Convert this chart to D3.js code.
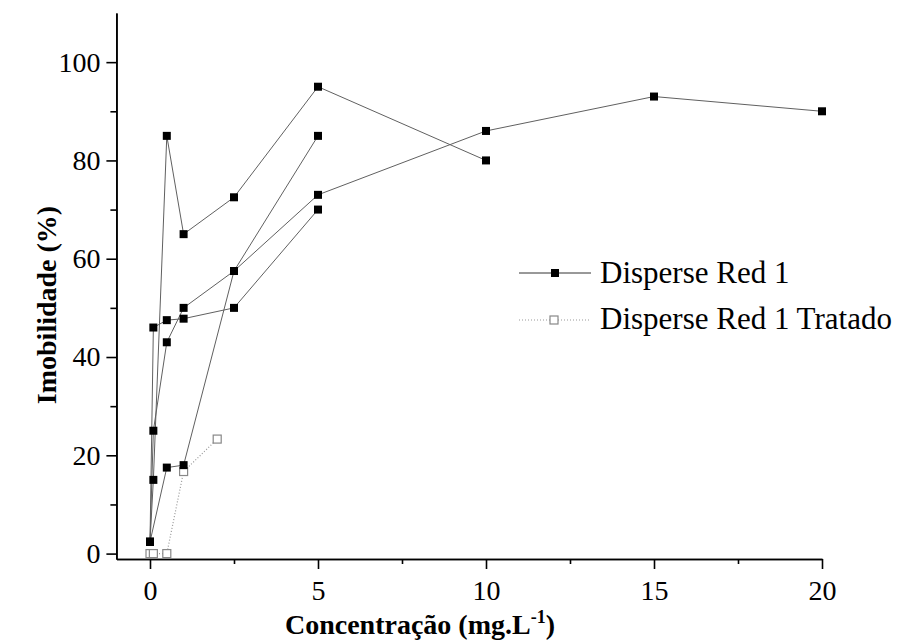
<!DOCTYPE html>
<html>
<head>
<meta charset="utf-8">
<script src="https://cdn.jsdelivr.net/npm/d3@7"></script>
<style>
  body { margin: 0; background: #fff; }
  svg text { font-family: "Liberation Serif", "Times New Roman", serif; fill: #000; }
</style>
</head>
<body>
<div id="chart"></div>
<script>
// four replicates of the untreated dye, one series for the treated one
var concRep1 = [0, 0.1, 0.5, 1, 2.5, 5, 10];
var imobRep1 = [2.4, 15, 85, 65, 72.5, 95, 80];
var concRep2 = [0, 0.5, 1, 2.5, 5];
var imobRep2 = [2.4, 17.5, 18, 57.5, 85];
var concRep3 = [0, 0.1, 0.5, 1, 2.5, 5, 10, 15, 20];
var imobRep3 = [2.4, 25, 43, 50, 57.5, 73, 86, 93, 90];
var concRep4 = [0, 0.1, 0.5, 1, 2.5, 5];
var imobRep4 = [2.4, 46, 47.5, 47.8, 50, 70];
var concTratado = [0, 0.1, 0.5, 1, 2];
var imobTratado = [0, 0, 0, 16.7, 23.3];

var xMajor = [0, 5, 10, 15, 20],
    xMinor = [2.5, 7.5, 12.5, 17.5];
var yMajor = [0, 20, 40, 60, 80, 100],
    yMinor = [10, 30, 50, 70, 90];
var legendNames = ["Disperse Red 1", "Disperse Red 1 Tratado"];

var width = 900, height = 644;

var svg = d3.select("#chart")
    .append("svg")
    .attr("width", width)
    .attr("height", height);

var x = d3.scaleLinear().domain([-1, 20]).range([116.4, 822]);
var y = d3.scaleLinear().domain([-1.1, 110]).range([559, 13]);

function pairs(xs, ys) {
    return xs.map(function(d, i) { return [d, ys[i]]; });
}

var reps = [
    pairs(concRep1, imobRep1),
    pairs(concRep2, imobRep2),
    pairs(concRep3, imobRep3),
    pairs(concRep4, imobRep4)
];
var tratado = pairs(concTratado, imobTratado);

var line = d3.line()
    .x(function(d) { return x(d[0]); })
    .y(function(d) { return y(d[1]); });

// axes
svg.append("g")
    .attr("transform", "translate(" + x(-1) + ",0)")
    .call(d3.axisLeft(y).tickValues(yMajor).tickSize(10).tickSizeOuter(0).tickPadding(6));
svg.append("g")
    .attr("transform", "translate(" + x(-1) + ",0)")
    .call(d3.axisLeft(y).tickValues(yMinor).tickSize(6).tickSizeOuter(0).tickFormat(""));

svg.append("g")
    .attr("transform", "translate(0," + y(-1.1) + ")")
    .call(d3.axisBottom(x).tickValues(xMajor).tickSize(10).tickSizeOuter(0).tickPadding(11));
svg.append("g")
    .attr("transform", "translate(0," + y(-1.1) + ")")
    .call(d3.axisBottom(x).tickValues(xMinor).tickSize(5).tickSizeOuter(0).tickFormat(""));

svg.selectAll(".domain").attr("stroke", "#000").attr("stroke-width", 1.6);
svg.selectAll(".tick line").attr("stroke", "#000").attr("stroke-width", 1.6);
svg.selectAll(".tick text")
    .attr("font-size", 28)
    .style("font-family", "'Liberation Serif', 'Times New Roman', serif");

// axis titles
svg.append("text")
    .attr("transform", "translate(56,305) rotate(-90)")
    .attr("text-anchor", "middle")
    .attr("font-size", 28)
    .attr("font-weight", "bold")
    .text("Imobilidade (%)");

var xt = svg.append("text")
    .attr("x", 420)
    .attr("y", 634)
    .attr("text-anchor", "middle")
    .attr("font-size", 28)
    .attr("font-weight", "bold");
xt.append("tspan").text("Concentração (mg.L");
xt.append("tspan").attr("dy", -11).attr("font-size", 18).text("-1");
xt.append("tspan").attr("dy", 11).text(")");

// lines
svg.selectAll(".rep")
    .data(reps)
    .enter()
    .append("path")
    .attr("class", "rep")
    .attr("d", line)
    .attr("fill", "none")
    .attr("stroke", "#606060")
    .attr("stroke-width", 1);

svg.append("path")
    .datum(tratado)
    .attr("d", line)
    .attr("fill", "none")
    .attr("stroke", "#999")
    .attr("stroke-width", 1.2)
    .attr("stroke-dasharray", "1,2");

// markers
var s = 8;
svg.append("g").selectAll("rect")
    .data(tratado)
    .enter()
    .append("rect")
    .attr("x", function(d) { return x(d[0]) - s / 2; })
    .attr("y", function(d) { return y(d[1]) - s / 2; })
    .attr("width", s)
    .attr("height", s)
    .attr("fill", "#fff")
    .attr("stroke", "#888")
    .attr("stroke-width", 1.2);

svg.append("g").selectAll("rect")
    .data(d3.merge(reps))
    .enter()
    .append("rect")
    .attr("x", function(d) { return x(d[0]) - s / 2; })
    .attr("y", function(d) { return y(d[1]) - s / 2; })
    .attr("width", s)
    .attr("height", s)
    .attr("fill", "#000");

// legend
var legend = svg.append("g");
legend.append("line")
    .attr("x1", 519).attr("x2", 591).attr("y1", 273).attr("y2", 273)
    .attr("stroke", "#333").attr("stroke-width", 1);
legend.append("rect")
    .attr("x", 551).attr("y", 269).attr("width", s).attr("height", s)
    .attr("fill", "#000");
legend.append("text")
    .attr("x", 600).attr("y", 283)
    .attr("font-size", 31)
    .text(legendNames[0]);

legend.append("line")
    .attr("x1", 519).attr("x2", 591).attr("y1", 320).attr("y2", 320)
    .attr("stroke", "#999").attr("stroke-width", 1.2).attr("stroke-dasharray", "1,2");
legend.append("rect")
    .attr("x", 550).attr("y", 316).attr("width", s).attr("height", s)
    .attr("fill", "#fff").attr("stroke", "#888").attr("stroke-width", 1.2);
legend.append("text")
    .attr("x", 600).attr("y", 329)
    .attr("font-size", 31)
    .text(legendNames[1]);
</script>
</body>
</html>
